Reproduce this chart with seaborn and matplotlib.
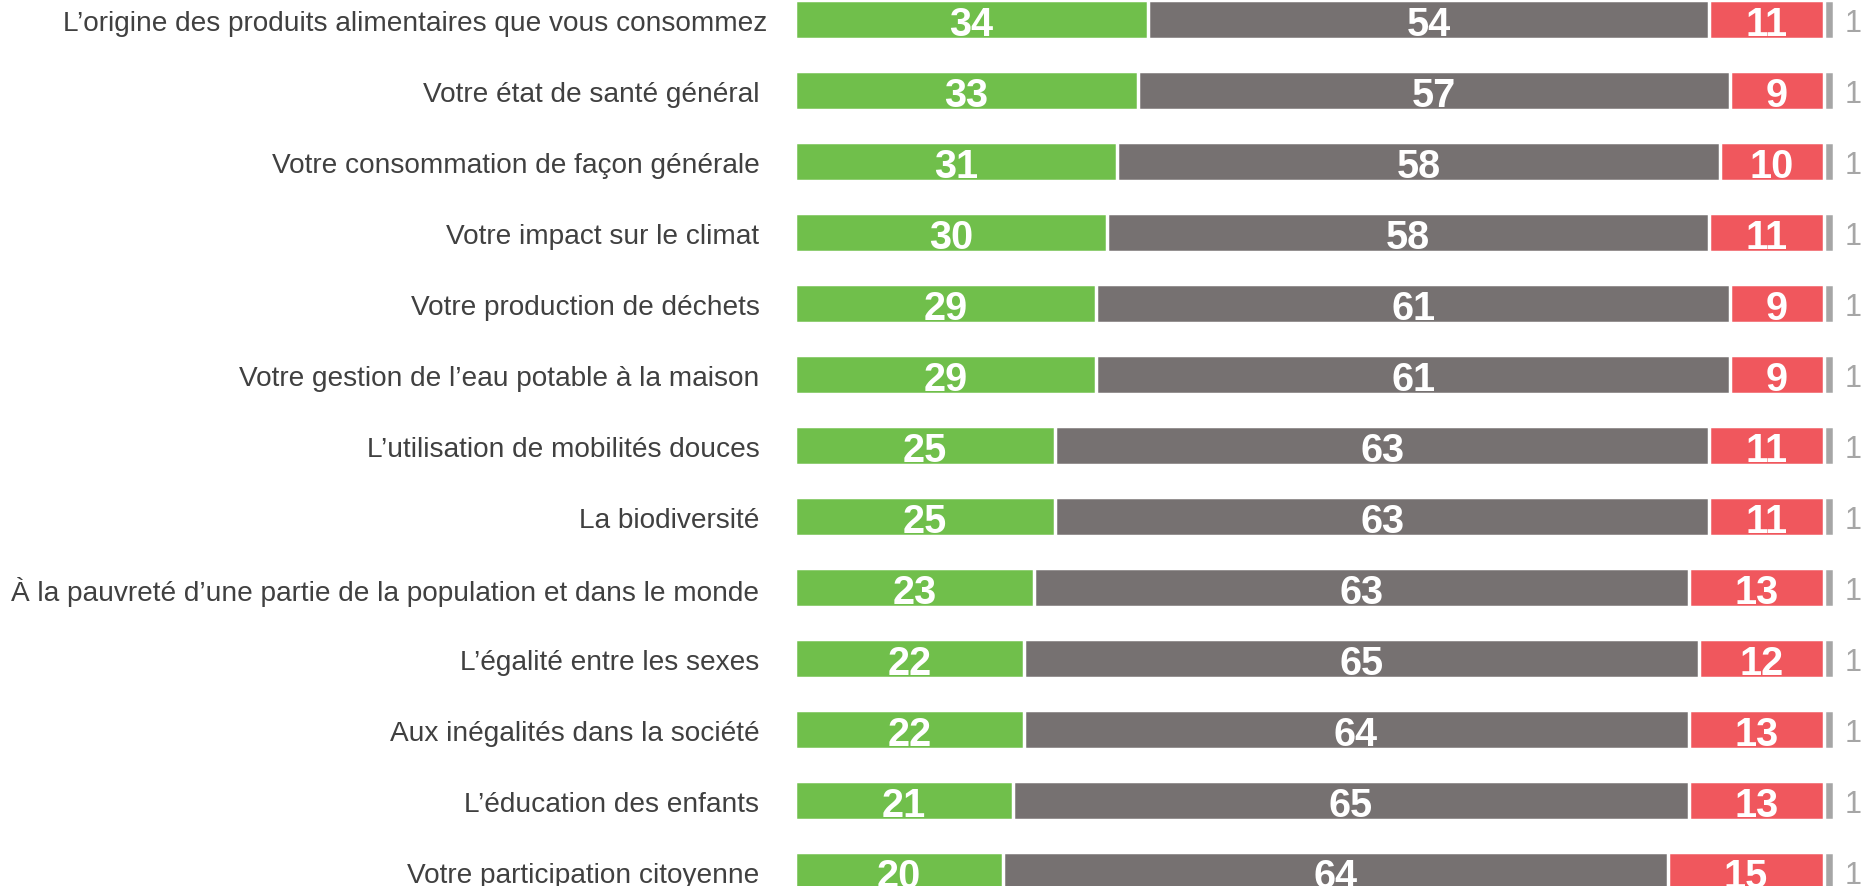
import matplotlib
matplotlib.use("Agg")
import matplotlib.pyplot as plt
import seaborn as sns
import numpy as np
import pandas as pd

categories = [
    "L’origine des produits alimentaires que vous consommez",
    "Votre état de santé général ",
    "Votre consommation de façon générale ",
    "Votre impact sur le climat ",
    "Votre production de déchets ",
    "Votre gestion de l’eau potable à la maison ",
    "L’utilisation de mobilités douces ",
    "La biodiversité ",
    "À la pauvreté d’une partie de la population et dans le monde ",
    "L’égalité entre les sexes ",
    "Aux inégalités dans la société ",
    "L’éducation des enfants ",
    "Votre participation citoyenne ",
]
green_vals = [34, 33, 31, 30, 29, 29, 25, 25, 23, 22, 22, 21, 20]
gray_vals = [54, 57, 58, 58, 61, 61, 63, 63, 63, 65, 64, 65, 64]
red_vals = [11, 9, 10, 11, 9, 9, 11, 11, 13, 12, 13, 13, 15]
other_vals = [1, 1, 1, 1, 1, 1, 1, 1, 1, 1, 1, 1, 1]

colors = ["#70BF4B", "#767171", "#F0575D", "#A6A6A6"]
series = [green_vals, gray_vals, red_vals, other_vals]

sns.set_theme(style="white")
plt.rcParams["font.family"] = ["Liberation Sans", "DejaVu Sans"]

fig = plt.figure(figsize=(18.64, 8.87), dpi=100)
ax = fig.add_axes([795 / 1864, 0, 1 - 795 / 1864, 1])

arr = np.array(series, dtype=float)
cum = np.cumsum(arr, axis=0)

# Draw from the full total backwards so each segment overlays the next
for i in range(len(series) - 1, -1, -1):
    df = pd.DataFrame({"cat": categories, "val": cum[i]})
    sns.barplot(data=df, x="val", y="cat", orient="h", color=colors[i],
                saturation=1, width=0.55, edgecolor="white", linewidth=2.5,
                ax=ax, errorbar=None)

starts = cum - arr
for r in range(len(categories)):
    for i in range(3):
        ax.text(starts[i, r] + arr[i, r] / 2, r, f"{int(arr[i, r])}",
                ha="center", va="center_baseline", color="white",
                fontsize=28.5, fontweight="bold")
    ax.text(cum[3, r] + 1.0, r, f"{int(arr[3, r])}", ha="left",
            va="center_baseline", color="#A6A6A6", fontsize=22)

ax.set_xlim(0, 1069 / 10.39)
ax.set_ylim(12.204, -0.289)
ax.set_xlabel("")
ax.set_ylabel("")
ax.set_xticks([])
ax.tick_params(axis="y", length=0, pad=20, labelsize=20.2, labelcolor="#404040")
for s in ax.spines.values():
    s.set_visible(False)

fig.savefig("out.png", dpi=100)
